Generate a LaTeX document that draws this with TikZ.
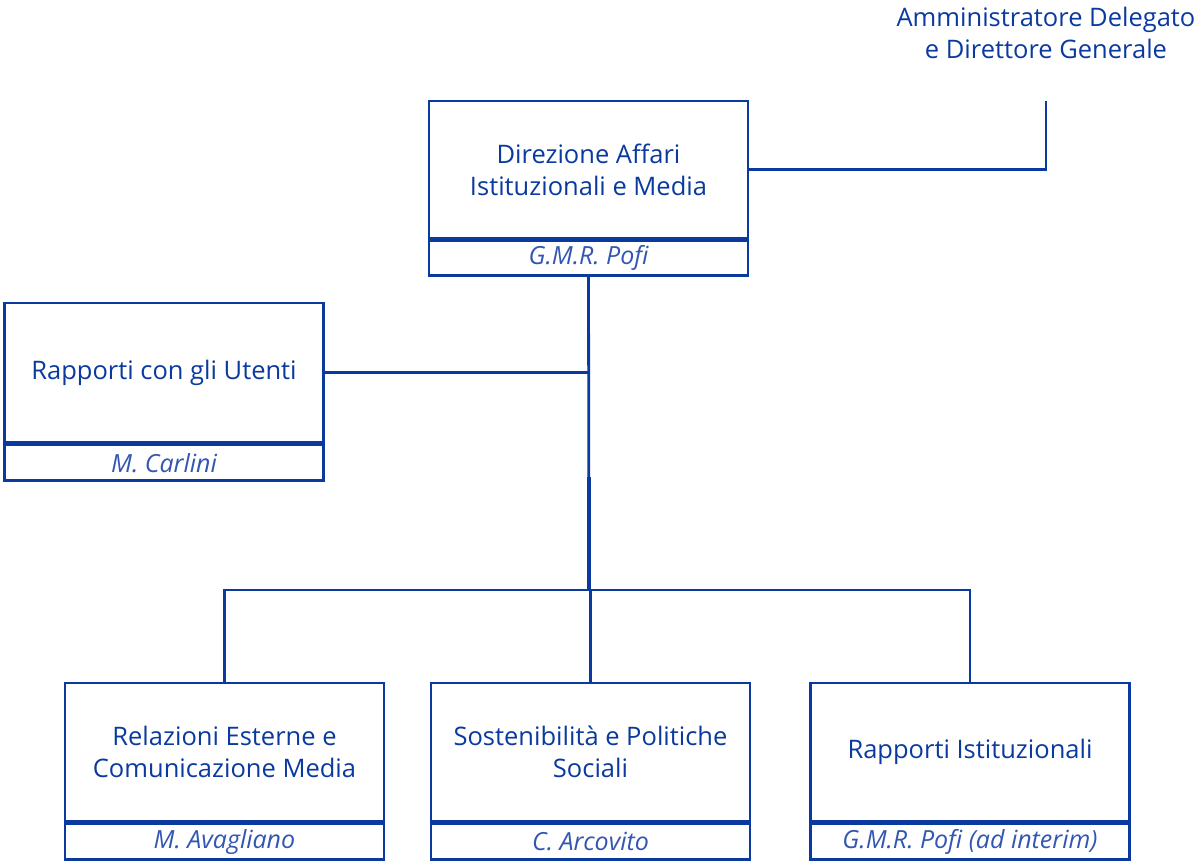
\documentclass[tikz,border=0pt]{standalone}
\usepackage{fontspec}
\setmainfont{Open Sans}
\definecolor{pblue}{HTML}{0A3A9F}
\definecolor{nblue}{HTML}{3356B2}
\begin{document}
\begin{tikzpicture}[x=1pt,y=-1pt,
  line/.style={draw=pblue,line width=2.8pt},
  titlebox/.style={draw=pblue,line width=2.8pt,minimum width=319pt,minimum height=137pt,inner sep=0pt,align=center,text=pblue,font=\fontsize{25.5}{32}\selectfont},
  namebox/.style={draw=pblue,line width=2.8pt,minimum width=319pt,minimum height=35pt,inner sep=0pt,text=nblue,font=\fontsize{25}{28}\selectfont\itshape},
  divider/.style={draw=pblue,line width=3.6pt}]
\useasboundingbox (0,0) rectangle (1201,865);
% top right label
\node[text=pblue,font=\fontsize{25.5}{32}\selectfont,align=center,anchor=base] (ad) at (1046,58) {Amministratore Delegato\\e Direttore Generale};
\coordinate (adline) at (1046,101);
% main
\node[titlebox] (dir) at (588.5,169.5) {Direzione Affari\\Istituzionali e Media};
\node[namebox,anchor=north] (dirn) at (dir.south) {G.M.R. Pofi};
% left
\node[titlebox,minimum height=139pt] (ute) at (164,372.5) {Rapporti con gli Utenti};
\node[namebox,minimum height=36pt,anchor=north] (uten) at (ute.south) {M. Carlini};
% bottom
\node[titlebox,minimum height=138pt] (rel) at (224.5,752) {Relazioni Esterne e\\Comunicazione Media};
\node[namebox,minimum height=36pt,anchor=north] (reln) at (rel.south) {M. Avagliano};
\node[titlebox,minimum height=138pt] (sos) at (590.5,752) {Sostenibilità e Politiche\\Sociali};
\node[namebox,minimum height=36pt,anchor=north] (sosn) at (sos.south) {C. Arcovito};
\node[titlebox,minimum height=138pt] (ist) at (970,752) {Rapporti Istituzionali};
\node[namebox,minimum height=36pt,anchor=north] (istn) at (ist.south) {G.M.R. Pofi (ad interim)};
% dividers
\foreach \n in {dir,ute,rel,sos,ist}{\draw[divider] (\n.south west) -- (\n.south east);}
% connectors
\coordinate (bus) at (589,590);
\coordinate (thick) at (589,477);
\draw[line] (adline) |- (dir.east);
\draw[line] (dirn.south) -- (bus);
\draw[line] (ute.east) -- (ute.east -| bus);
\draw[divider] (thick) -- (bus);
\draw[line] (rel.north) |- (bus) -| (ist.north);
\draw[line] (bus -| sos.north) -- (sos.north);
\end{tikzpicture}
\end{document}
